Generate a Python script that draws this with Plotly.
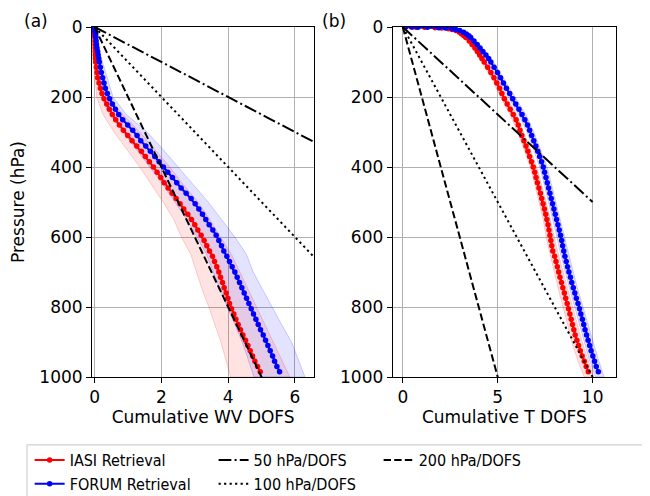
import plotly.graph_objects as go

# ---------------- data ----------------
# pressure levels (hPa) of the retrieval grid
P_LEVELS = [0.1, 0.3, 0.5, 1, 2, 3, 5, 7, 10, 15, 20, 25, 30, 40, 50, 60, 70, 80, 90,
            100, 115, 130, 145, 160, 175, 190, 205, 220, 235,
            250, 265, 280, 295, 310, 325, 340, 355, 370, 385,
            400, 415, 430, 445, 460, 475, 490, 505, 520, 535,
            550, 565, 580, 595, 610, 625, 640, 655, 670, 685,
            700, 715, 730, 745, 760, 775, 790, 805, 820, 835,
            850, 865, 880, 895, 910, 925, 940, 955, 970, 985]

# (a) cumulative water-vapour DOFS
WV_IASI = [0, 0, 0, 0, 0, 0, 0, 0, 0, 0, 0.002, 0.004, 0.006, 0.008, 0.01, 0.013, 0.016, 0.02, 0.025,
           0.03, 0.05, 0.07, 0.09, 0.13, 0.17, 0.22, 0.28, 0.36, 0.44,
           0.53, 0.63, 0.74, 0.86, 0.99, 1.12, 1.26, 1.40, 1.52, 1.64,
           1.76, 1.87, 1.98, 2.08, 2.20, 2.32, 2.44, 2.56, 2.67, 2.79,
           2.90, 3.00, 3.09, 3.19, 3.28, 3.36, 3.44, 3.53, 3.59, 3.66,
           3.72, 3.77, 3.83, 3.88, 3.94, 3.99, 4.04, 4.10, 4.17, 4.23,
           4.30, 4.37, 4.44, 4.52, 4.59, 4.66, 4.73, 4.80, 4.88, 4.96]
WV_FORUM = [0, 0, 0, 0.002, 0.004, 0.006, 0.01, 0.012, 0.015, 0.02, 0.025, 0.03, 0.034, 0.045, 0.055, 0.07, 0.09, 0.105, 0.12,
            0.14, 0.17, 0.20, 0.24, 0.28, 0.32, 0.38, 0.45, 0.53, 0.62,
            0.72, 0.84, 0.99, 1.14, 1.27, 1.38, 1.53, 1.67, 1.80, 1.93,
            2.06, 2.19, 2.33, 2.46, 2.59, 2.74, 2.89, 3.01, 3.12, 3.23,
            3.33, 3.43, 3.54, 3.64, 3.72, 3.80, 3.87, 3.96, 4.04, 4.12,
            4.20, 4.27, 4.34, 4.41, 4.48, 4.55, 4.62, 4.69, 4.76, 4.83,
            4.90, 4.97, 5.05, 5.12, 5.19, 5.26, 5.33, 5.39, 5.46, 5.54]

# (b) cumulative temperature DOFS
T_IASI = [0.12, 0.45, 0.7, 1.15, 1.7, 2.05, 2.4, 2.6, 2.8, 2.98, 3.1, 3.22, 3.32, 3.5, 3.65, 3.8, 3.93, 4.05, 4.17,
          4.29, 4.47, 4.64, 4.80, 4.95, 5.10, 5.22, 5.35, 5.50, 5.66,
          5.82, 5.97, 6.08, 6.17, 6.27, 6.38, 6.49, 6.59, 6.68, 6.78,
          6.87, 6.95, 7.02, 7.09, 7.17, 7.25, 7.32, 7.39, 7.46, 7.53,
          7.59, 7.65, 7.70, 7.75, 7.80, 7.85, 7.90, 8.00, 8.07, 8.14,
          8.21, 8.28, 8.36, 8.43, 8.51, 8.58, 8.66, 8.73, 8.80, 8.87,
          8.94, 9.01, 9.08, 9.17, 9.26, 9.35, 9.45, 9.56, 9.66, 9.77]
T_FORUM = [0.15, 0.5, 0.8, 1.3, 1.9, 2.25, 2.6, 2.8, 3.0, 3.2, 3.35, 3.48, 3.58, 3.75, 3.92, 4.07, 4.22, 4.38, 4.52,
           4.64, 4.81, 4.99, 5.15, 5.30, 5.46, 5.63, 5.79, 5.95, 6.12,
           6.28, 6.43, 6.57, 6.68, 6.79, 6.90, 7.01, 7.11, 7.21, 7.31,
           7.40, 7.47, 7.54, 7.61, 7.68, 7.75, 7.82, 7.89, 7.96, 8.03,
           8.10, 8.17, 8.24, 8.31, 8.37, 8.42, 8.48, 8.54, 8.61, 8.68,
           8.75, 8.83, 8.90, 8.98, 9.06, 9.14, 9.23, 9.31, 9.38, 9.46,
           9.53, 9.60, 9.68, 9.76, 9.84, 9.92, 10.01, 10.10, 10.19, 10.30]

# spread (shaded) envelopes
BAND_P_WV = [0, 50, 100, 150, 200, 250, 300, 350, 400, 450, 500, 550, 600, 650, 700, 750, 800, 850, 900, 950, 1000]
WV_IASI_LO = [0, 0, 0, 0.02, 0.06, 0.25, 0.58, 0.97, 1.35, 1.7, 2.05, 2.37, 2.6, 2.88, 3.05, 3.22, 3.42, 3.6, 3.78, 3.93, 4.07]
WV_IASI_HI = [0, 0.02, 0.07, 0.17, 0.4, 0.85, 1.35, 1.8, 2.25, 2.65, 3.1, 3.45, 3.77, 4.1, 4.35, 4.6, 4.87, 5.1, 5.35, 5.6, 5.85]
WV_FORUM_LO = [0, 0, 0.03, 0.1, 0.2, 0.45, 0.85, 1.25, 1.67, 2.05, 2.4, 2.75, 3.07, 3.35, 3.55, 3.75, 3.97, 4.2, 4.42, 4.6, 4.77]
WV_FORUM_HI = [0, 0.08, 0.25, 0.4, 0.55, 0.95, 1.57, 2.05, 2.5, 2.95, 3.4, 3.8, 4.2, 4.55, 4.75, 5.05, 5.32, 5.6, 5.9, 6.1, 6.3]

BAND_P_T = [0, 5, 10, 25, 50, 100, 150, 200, 250, 300, 350, 400, 450, 500, 550, 600, 650, 700, 750, 800, 850, 900, 950, 1000]
T_IASI_LO = [0, 2.3, 2.7, 3.1, 3.55, 4.15, 4.72, 5.15, 5.65, 6.05, 6.4, 6.72, 6.95, 7.18, 7.4, 7.55, 7.75, 7.98, 8.2, 8.45, 8.68, 8.9, 9.2, 9.55]
T_IASI_HI = [0, 2.5, 2.9, 3.35, 3.75, 4.42, 5.0, 5.45, 6.0, 6.35, 6.72, 7.05, 7.3, 7.55, 7.78, 7.98, 8.2, 8.45, 8.68, 8.95, 9.2, 9.45, 9.75, 10.05]
T_FORUM_LO = [0, 2.5, 2.9, 3.35, 3.8, 4.48, 5.0, 5.55, 6.1, 6.55, 6.9, 7.22, 7.45, 7.68, 7.9, 8.12, 8.32, 8.55, 8.8, 9.05, 9.3, 9.55, 9.82, 10.15]
T_FORUM_HI = [0, 2.7, 3.1, 3.6, 4.05, 4.78, 5.32, 5.9, 6.48, 6.9, 7.25, 7.6, 7.82, 8.08, 8.3, 8.52, 8.75, 8.98, 9.22, 9.5, 9.75, 10.02, 10.3, 10.6]

# reference lines: constant hPa per DOFS
REF_RATES = [50, 100, 200]
REF_NAMES = ["50 hPa/DOFS", "100 hPa/DOFS", "200 hPa/DOFS"]
REF_DOFS = [0, 10]

X_TICKS_A = [0, 2, 4, 6]
X_TICKS_B = [0, 5, 10]
Y_TICKS = [0, 200, 400, 600, 800, 1000]

# ---------------- styling ----------------
FONT = "DejaVu Sans"
LEG_FONT = "DejaVu Sans Condensed, DejaVu Sans"
FS = 17
RED = "#ff0000"
BLUE = "#0000ff"
REF_DASH = ["12.8px,3.2px,2px,3.2px", "2.2px,3.3px", "7.4px,3.2px"]
REF_LEGEND = ["legend2", "legend2", "legend3"]

fig = go.Figure()


def band(xaxis, yaxis, plev, lo, hi, color):
    fig.add_trace(go.Scatter(
        x=list(lo) + list(hi)[::-1], y=list(plev) + list(plev)[::-1],
        fill="toself", fillcolor=color.replace("A", "0.11"),
        line=dict(color=color.replace("A", "0.18"), width=1),
        mode="lines", hoverinfo="skip", showlegend=False,
        xaxis=xaxis, yaxis=yaxis))


band("x", "y", BAND_P_WV, WV_IASI_LO, WV_IASI_HI, "rgba(255,0,0,A)")
band("x", "y", BAND_P_WV, WV_FORUM_LO, WV_FORUM_HI, "rgba(0,0,255,A)")
band("x2", "y2", BAND_P_T, T_IASI_LO, T_IASI_HI, "rgba(255,0,0,A)")
band("x2", "y2", BAND_P_T, T_FORUM_LO, T_FORUM_HI, "rgba(0,0,255,A)")

series = [("IASI Retrieval", WV_IASI, T_IASI, RED),
          ("FORUM Retrieval", WV_FORUM, T_FORUM, BLUE)]
for name, wv, t, col in series:
    for i, (xa, ya, vals) in enumerate([("x", "y", wv), ("x2", "y2", t)]):
        fig.add_trace(go.Scatter(
            x=vals, y=P_LEVELS, mode="lines+markers", name=name,
            line=dict(color=col, width=2), marker=dict(color=col, size=5.5),
            legend="legend", legendgroup=name, showlegend=(i == 0),
            xaxis=xa, yaxis=ya))

for rate, name, dash, lg in zip(REF_RATES, REF_NAMES, REF_DASH, REF_LEGEND):
    for i, (xa, ya) in enumerate([("x", "y"), ("x2", "y2")]):
        fig.add_trace(go.Scatter(
            x=REF_DOFS, y=[rate * d for d in REF_DOFS], mode="lines", name=name,
            line=dict(color="black", width=2, dash=dash),
            legend=lg, legendgroup=name, showlegend=(i == 0),
            xaxis=xa, yaxis=ya))

axis_common = dict(
    showline=True, linecolor="black", linewidth=1, mirror=True,
    ticks="outside", ticklen=5, tickwidth=1, tickcolor="black",
    showgrid=True, gridcolor="#b0b0b0", gridwidth=1, zeroline=False,
    tickfont=dict(family=FONT, size=FS, color="black"),
    automargin=False,
)

leg_common = dict(y=-0.1886, xanchor="left", yanchor="top",
                  font=dict(family=LEG_FONT, size=16, color="black"),
                  bgcolor="rgba(0,0,0,0)", tracegroupgap=0, itemwidth=30)

# the page body has an 8px default margin, so the figure is drawn 8px in from the corner
fig.update_layout(
    width=642, height=488,
    margin=dict(l=84, r=34, t=19, b=119, autoexpand=False),
    paper_bgcolor="white", plot_bgcolor="white",
    font=dict(family=FONT, size=FS, color="black"),
    xaxis=dict(domain=[0, 0.4242], range=[-0.08, 6.58], tickvals=X_TICKS_A,
               title=dict(text="Cumulative WV DOFS", standoff=0,
                          font=dict(family=FONT, size=FS)), anchor="y", **axis_common),
    yaxis=dict(domain=[0, 1], range=[1000, 0], tickvals=Y_TICKS,
               title=dict(text="Pressure (hPa)", standoff=11,
                          font=dict(family=FONT, size=FS)), anchor="x", **axis_common),
    xaxis2=dict(domain=[0.5739, 1], range=[-0.53, 11.23], tickvals=X_TICKS_B,
                title=dict(text="Cumulative T DOFS", standoff=0,
                           font=dict(family=FONT, size=FS)), anchor="y2", **axis_common),
    yaxis2=dict(domain=[0, 1], range=[1000, 0], tickvals=Y_TICKS, anchor="x2", **axis_common),
    legend=dict(x=-0.119, **leg_common),
    legend2=dict(x=0.232, **leg_common),
    legend3=dict(x=0.547, **leg_common),
    shapes=[dict(type="rect", xref="paper", yref="paper",
                 x0=-0.124, x1=1.09, y0=-0.40, y1=-0.194,
                 line=dict(color="#d0d0d0", width=1.2), fillcolor="rgba(0,0,0,0)",
                 layer="below")],
    annotations=[
        dict(text="(a)", x=-0.107, y=1.017, xref="paper", yref="paper",
             xanchor="center", yanchor="middle",
             showarrow=False, font=dict(family=FONT, size=FS)),
        dict(text="(b)", x=0.462, y=1.017, xref="paper", yref="paper",
             xanchor="center", yanchor="middle",
             showarrow=False, font=dict(family=FONT, size=FS)),
    ],
)

fig.write_html("out.html")
